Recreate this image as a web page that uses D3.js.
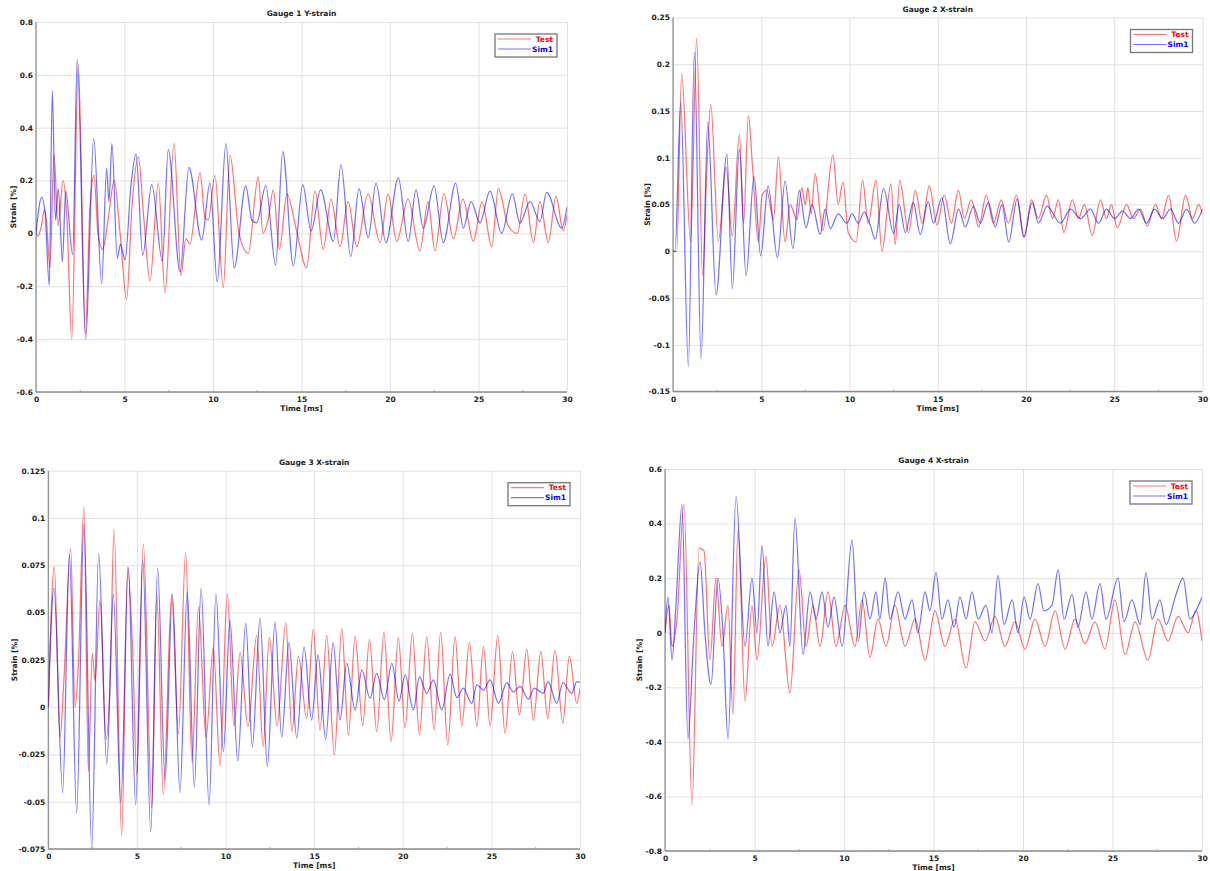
<!DOCTYPE html>
<html>
<head>
<meta charset="utf-8">
<script src="https://cdn.jsdelivr.net/npm/d3@7"></script>
<style>
  body { margin: 0; background: #fff; }
  svg { display: block; }
  text { font-family: "DejaVu Sans", sans-serif; font-weight: bold; }
</style>
</head>
<body>
<svg id="chart" width="1210" height="871"></svg>
<script>
// ---- data (time [ms], strain [%]) ----
var titles = ['Gauge 1 Y-strain', 'Gauge 2 X-strain', 'Gauge 3 X-strain', 'Gauge 4 X-strain'];
var seriesNames = ['Test', 'Sim1'];
var xTicks = [0, 5, 10, 15, 20, 25, 30];

var g1Ticks = [0.8, 0.6, 0.4, 0.2, 0, -0.2, -0.4, -0.6];
var g2Ticks = [0.25, 0.2, 0.15, 0.1, 0.05, 0, -0.05, -0.1, -0.15];
var g3Ticks = [0.125, 0.1, 0.075, 0.05, 0.025, 0, -0.025, -0.05, -0.075];
var g4Ticks = [0.6, 0.4, 0.2, 0, -0.2, -0.4, -0.6, -0.8];

var g1Test = [[0,0],[0.10,-0.01],[0.28,0.02],[0.48,0.09],[0.59,0.05],[0.79,-0.13],[1.02,0.30],[1.24,0.03],[1.54,0.20],[1.75,0.05],[2.02,-0.40],[2.39,0.64],[2.79,-0.38],[3.05,0.10],[3.28,0.22],[3.50,0.0],[3.77,-0.06],[4.07,0.05],[4.42,0.20],[4.75,0.0],[5.12,-0.25],[5.42,0.10],[5.78,0.29],[6.10,0.05],[6.44,-0.18],[6.91,0.19],[7.29,-0.225],[7.80,0.34],[8.19,-0.16],[8.47,-0.02],[8.70,-0.04],[9.27,0.23],[9.55,0.06],[9.73,0.05],[10.11,0.22],[10.58,-0.205],[10.96,0.295],[11.47,0.0],[11.99,-0.075],[12.56,0.215],[12.82,0.0],[13.11,0.05],[13.41,0.165],[13.75,-0.06],[14.18,0.15],[14.69,0.02],[15.29,-0.13],[15.76,0.16],[16.23,-0.06],[16.67,0.13],[17.18,-0.05],[17.63,0.12],[18.12,-0.05],[18.76,0.15],[19.44,-0.035],[19.89,0.15],[20.38,-0.03],[21.02,0.13],[21.69,-0.066],[22.15,0.12],[22.54,-0.066],[23.05,0.15],[23.58,-0.02],[24.12,0.13],[24.71,-0.03],[25.20,0.12],[25.75,-0.05],[26.12,0.17],[26.67,0.03],[27.19,0.0],[27.63,0.15],[28.10,-0.035],[28.47,0.12],[28.94,-0.035],[29.38,0.14],[29.79,0.01],[30,0.07]];
var g1Sim = [[0,0],[0.32,0.136],[0.51,0.08],[0.75,-0.196],[0.92,0.54],[1.10,0.05],[1.26,0.17],[1.49,-0.108],[1.68,0.16],[2.07,-0.08],[2.33,0.66],[2.81,-0.40],[3.26,0.36],[3.71,-0.19],[3.99,0.245],[4.12,0.12],[4.29,0.34],[4.59,-0.095],[4.77,-0.04],[5.03,-0.10],[5.37,0.185],[5.65,0.30],[6.03,-0.083],[6.54,0.185],[7.14,-0.105],[7.47,0.317],[8.14,-0.146],[8.64,0.25],[9.36,-0.025],[9.83,0.19],[10.24,-0.184],[10.73,0.34],[11.20,-0.13],[11.85,0.18],[12.2,0.05],[12.47,0.04],[12.98,0.18],[13.54,-0.12],[13.94,0.31],[14.54,-0.123],[15.07,0.185],[15.54,0.009],[16.08,0.165],[16.80,-0.03],[17.23,0.26],[17.78,-0.088],[18.25,0.17],[18.77,-0.016],[19.21,0.19],[19.77,-0.035],[20.47,0.21],[21.03,-0.03],[21.47,0.165],[21.88,0.02],[22.49,0.18],[23.01,-0.035],[23.71,0.19],[24.14,0.02],[24.58,0.12],[25.08,0.04],[25.65,0.16],[26.31,0.0],[26.91,0.15],[27.34,0.04],[27.91,0.12],[28.47,0.045],[28.85,0.155],[29.70,0.02],[30,0.1]];

var g2Test = [[0,0],[0.21,0.0],[0.49,0.19],[1.00,0.01],[1.34,0.228],[1.68,-0.027],[1.91,0.085],[2.14,0.157],[2.57,0.011],[3.01,0.09],[3.36,0.016],[3.76,0.125],[4.00,0.03],[4.27,0.145],[4.50,0.092],[4.84,0.01],[5.05,0.06],[5.31,0.065],[5.69,0.034],[5.97,0.101],[6.35,0.01],[6.64,0.05],[7.02,0.034],[7.30,0.068],[7.49,0.05],[7.64,0.068],[7.83,0.04],[8.05,0.083],[8.49,0.022],[9.06,0.103],[9.36,0.05],[9.63,0.074],[9.93,0.02],[10.38,0.01],[10.74,0.076],[11.06,0.03],[11.50,0.076],[11.84,0.0],[12.35,0.072],[12.59,0.007],[12.84,0.076],[13.35,0.02],[13.73,0.065],[14.12,0.03],[14.52,0.07],[14.96,0.028],[15.37,0.06],[15.77,0.03],[16.17,0.065],[16.51,0.035],[16.90,0.055],[17.32,0.026],[17.75,0.06],[18.15,0.03],[18.60,0.055],[19.00,0.03],[19.46,0.06],[19.91,0.015],[20.31,0.055],[20.70,0.035],[21.16,0.06],[21.50,0.035],[21.84,0.055],[22.14,0.02],[22.63,0.055],[22.97,0.035],[23.31,0.05],[23.75,0.017],[24.22,0.055],[24.56,0.035],[24.84,0.05],[25.17,0.025],[25.70,0.05],[26.09,0.035],[26.49,0.045],[26.87,0.027],[27.34,0.05],[27.68,0.035],[28.08,0.06],[28.53,0.011],[29.04,0.06],[29.44,0.035],[29.78,0.05],[30,0.04]];
var g2Sim = [[0,0],[0.11,0.0],[0.44,0.159],[0.87,-0.123],[1.21,0.213],[1.59,-0.115],[1.97,0.138],[2.44,-0.047],[3.05,0.104],[3.36,-0.04],[3.76,0.109],[4.14,-0.026],[4.59,0.08],[4.97,-0.005],[5.39,0.07],[5.92,-0.007],[6.35,0.075],[6.79,0.003],[7.15,0.065],[7.54,0.025],[7.88,0.05],[8.34,0.018],[8.62,0.045],[8.91,0.024],[9.36,0.04],[9.85,0.03],[10.15,0.04],[10.49,0.03],[10.83,0.042],[11.17,0.028],[11.46,0.013],[11.93,0.067],[12.50,0.019],[12.82,0.05],[13.16,0.02],[13.61,0.052],[14.01,0.018],[14.46,0.053],[14.75,0.03],[15.24,0.057],[15.71,0.008],[16.18,0.045],[16.56,0.026],[17.02,0.048],[17.41,0.03],[17.87,0.052],[18.26,0.026],[18.64,0.05],[19.02,0.01],[19.50,0.056],[19.87,0.015],[20.35,0.052],[20.70,0.03],[21.20,0.048],[21.95,0.03],[22.52,0.045],[23.09,0.035],[23.65,0.045],[24.11,0.03],[24.56,0.045],[25.01,0.035],[25.47,0.043],[25.92,0.035],[26.38,0.045],[26.83,0.03],[27.28,0.045],[27.74,0.035],[28.19,0.045],[28.64,0.03],[29.10,0.045],[29.55,0.03],[30,0.045]];

var g3Test = [[0,0],[0.34,0.0743],[0.66,-0.016],[0.89,0.016],[1.26,0.084],[1.51,0.0],[1.69,0.021],[2.01,0.1057],[2.26,-0.034],[2.48,0.0285],[2.64,0.014],[2.92,0.0567],[3.26,-0.017],[3.48,0.011],[3.71,0.094],[4.14,-0.068],[4.48,0.074],[4.76,0.03],[4.99,-0.036],[5.36,0.0863],[5.84,-0.053],[6.12,0.06],[6.49,-0.046],[6.96,0.0593],[7.34,-0.014],[7.75,0.0817],[8.11,-0.029],[8.47,0.053],[8.90,-0.016],[9.31,0.0315],[9.69,-0.031],[10.10,0.06],[10.48,-0.01],[10.82,0.029],[11.27,-0.0103],[11.76,0.038],[12.12,-0.021],[12.47,0.037],[12.91,-0.01],[13.40,0.0446],[13.75,-0.013],[14.11,0.027],[14.58,-0.006],[14.95,0.0412],[15.33,-0.012],[15.71,0.038],[16.14,-0.0253],[16.56,0.0417],[16.93,-0.0147],[17.31,0.0375],[17.74,-0.01],[18.12,0.0358],[18.53,-0.013],[18.94,0.0396],[19.34,-0.0182],[19.75,0.0367],[20.13,-0.011],[20.54,0.039],[20.94,-0.0147],[21.35,0.0373],[21.77,-0.012],[22.14,0.0396],[22.54,-0.02],[22.95,0.0373],[23.33,-0.01],[23.76,0.0343],[24.18,-0.0103],[24.55,0.032],[24.93,-0.01],[25.36,0.0378],[25.77,-0.0138],[26.19,0.0293],[26.58,-0.0041],[27.00,0.0306],[27.37,-0.007],[27.79,0.0293],[28.18,-0.006],[28.59,0.03],[29.03,-0.0085],[29.40,0.027],[29.82,0.002],[30,0.01]];
var g3Sim = [[0,0],[0.32,0.0628],[0.81,-0.0452],[1.19,0.0805],[1.60,-0.0561],[2.01,0.0968],[2.45,-0.0746],[2.84,0.0813],[3.30,-0.0302],[3.67,0.0598],[4.09,-0.0508],[4.51,0.0737],[4.93,-0.0517],[5.33,0.0778],[5.78,-0.0658],[6.17,0.0734],[6.59,-0.0385],[7.00,0.0598],[7.43,-0.0452],[7.84,0.061],[8.24,-0.0424],[8.62,0.0628],[9.07,-0.0517],[9.46,0.0597],[9.88,-0.0235],[10.25,0.046],[10.69,-0.0284],[11.14,0.0443],[11.51,-0.021],[11.95,0.047],[12.36,-0.0314],[12.79,0.0449],[13.17,-0.0159],[13.58,0.0343],[14.02,-0.0164],[14.43,0.0317],[14.86,-0.0068],[15.22,0.0276],[15.65,-0.017],[16.07,0.0338],[16.46,-0.0068],[16.84,0.0232],[17.31,-0.0015],[17.69,0.0197],[18.15,0.0047],[18.53,0.0179],[18.96,0.004],[19.38,0.0232],[19.79,0.0032],[20.13,0.017],[20.60,-0.0015],[20.94,0.016],[21.35,0.0073],[21.73,0.0144],[22.20,-0.0015],[22.67,0.0175],[23.05,0.005],[23.42,0.01],[23.89,0.002],[24.18,0.0118],[24.55,0.009],[24.93,0.0144],[25.40,0.002],[25.87,0.013],[26.24,0.008],[26.62,0.011],[27.09,0.0042],[27.41,0.010],[27.93,0.0073],[28.20,0.0135],[28.69,0.002],[29.04,0.013],[29.53,0.0073],[29.82,0.0135],[30,0.013]];

var g4Test = [[0,0],[0.22,0.1],[0.39,-0.05],[0.67,0.05],[1.06,0.47],[1.51,-0.63],[1.90,0.31],[2.18,0.30],[2.51,-0.1],[2.85,0.2],[3.18,-0.05],[3.52,0.1],[3.80,-0.3],[4.08,0.38],[4.47,-0.25],[4.86,0.1],[5.14,-0.1],[5.64,0.28],[5.98,-0.05],[6.42,0.1],[6.98,-0.22],[7.49,0.23],[7.88,-0.05],[8.27,0.1],[8.66,-0.05],[9.11,0.15],[9.55,-0.05],[10.06,0.1],[10.61,-0.05],[11.01,0.12],[11.45,-0.09],[11.90,0.05],[12.35,-0.05],[12.85,0.1],[13.41,-0.05],[13.97,0.05],[14.53,-0.1],[15.08,0.08],[15.64,-0.05],[16.20,0.05],[16.82,-0.13],[17.32,0.04],[17.88,-0.03],[18.44,0.06],[18.99,-0.05],[19.55,0.04],[20.11,-0.06],[20.67,0.05],[21.23,-0.05],[21.79,0.08],[22.35,-0.06],[22.91,0.05],[23.46,-0.04],[24.02,0.04],[24.58,-0.06],[25.14,0.12],[25.70,-0.08],[26.26,0.04],[26.98,-0.1],[27.54,0.05],[28.10,-0.03],[28.66,0.06],[29.22,0.0],[29.66,0.08],[30,-0.03]];
var g4Sim = [[0,0],[0.17,0.13],[0.39,-0.1],[0.61,0.1],[0.95,0.47],[1.28,-0.39],[1.62,0.0],[1.96,0.26],[2.23,0.0],[2.57,-0.19],[2.96,0.2],[3.24,0.0],[3.52,-0.39],[3.97,0.50],[4.47,-0.05],[4.86,0.2],[5.14,0.0],[5.42,0.32],[5.75,-0.05],[6.09,0.15],[6.42,0.0],[6.76,0.1],[6.98,-0.05],[7.26,0.42],[7.71,-0.08],[8.10,0.15],[8.44,0.05],[8.77,0.15],[9.11,0.02],[9.44,0.13],[9.90,-0.05],[10.45,0.34],[10.80,-0.03],[11.12,0.15],[11.45,0.05],[11.79,0.15],[12.00,0.05],[12.30,0.2],[12.57,0.05],[13.02,0.15],[13.41,0.05],[13.80,0.12],[14.13,0.0],[14.53,0.15],[14.80,0.08],[15.14,0.22],[15.47,0.05],[15.81,0.12],[16.15,0.02],[16.48,0.13],[16.82,0.05],[17.15,0.15],[17.49,0.05],[17.93,0.1],[18.27,0.0],[18.60,0.21],[18.94,0.03],[19.39,0.12],[19.72,0.0],[20.06,0.13],[20.39,0.05],[20.84,0.18],[21.17,0.08],[21.62,0.1],[21.96,0.23],[22.29,0.05],[22.74,0.14],[23.07,0.02],[23.52,0.15],[23.85,0.05],[24.30,0.18],[24.64,0.05],[25.31,0.2],[25.64,0.04],[26.09,0.12],[26.54,0.03],[26.87,0.22],[27.21,0.05],[27.65,0.12],[27.99,0.03],[28.55,0.14],[28.94,0.2],[29.33,0.05],[29.66,0.08],[30,0.13]];

// ---- layout ----
var svg = d3.select('#chart');
var colors = { Test: '#ff0000', Sim1: '#0000ff' };

var panels = [
  { title: titles[0], test: g1Test, sim: g1Sim, yTicks: g1Ticks, labelGap: 20, box: { l: 36, t: 22, r: 567, b: 392 } },
  { title: titles[1], test: g2Test, sim: g2Sim, yTicks: g2Ticks, labelGap: 23, box: { l: 673, t: 17.5, r: 1202.5, b: 391.5 } },
  { title: titles[2], test: g3Test, sim: g3Sim, yTicks: g3Ticks, labelGap: 31, box: { l: 48.3, t: 470.7, r: 580, b: 849 } },
  { title: titles[3], test: g4Test, sim: g4Sim, yTicks: g4Ticks, labelGap: 23, box: { l: 665, t: 469, r: 1202, b: 851 } }
];

panels.forEach(function(p, i) {
  var b = p.box;
  var w = b.r - b.l;
  var h = b.b - b.t;
  var x = d3.scaleLinear().domain([0, 30]).range([b.l, b.r]);
  var y = d3.scaleLinear().domain(d3.extent(p.yTicks)).range([b.b, b.t]);
  var g = svg.append('g').attr('class', 'panel');

  // grid
  g.append('g')
    .attr('transform', `translate(0, ${b.b})`)
    .call(d3.axisBottom(x).tickValues(xTicks).tickSize(-h).tickFormat(''))
    .call(s => s.select('.domain').remove())
    .selectAll('line').attr('stroke', '#d9d9d9').attr('stroke-width', 0.8);
  g.append('g')
    .attr('transform', `translate(${b.l}, 0)`)
    .call(d3.axisLeft(y).tickValues(p.yTicks).tickSize(-w).tickFormat(''))
    .call(s => s.select('.domain').remove())
    .selectAll('line').attr('stroke', '#d9d9d9').attr('stroke-width', 0.8);

  // minor x ticks
  g.selectAll('line.minor')
    .data(d3.range(2.5, 30, 5))
    .enter()
    .append('line')
    .attr('x1', d => x(d)).attr('x2', d => x(d))
    .attr('y1', b.b).attr('y2', b.b - 2)
    .attr('stroke', '#999').attr('stroke-width', 0.8);

  // axis lines
  g.append('line')
    .attr('x1', b.l).attr('x2', b.l).attr('y1', b.t).attr('y2', b.b)
    .attr('stroke', '#8c8c8c').attr('stroke-width', 1.2);
  g.append('line')
    .attr('x1', b.l).attr('x2', b.r).attr('y1', b.b).attr('y2', b.b)
    .attr('stroke', '#8c8c8c').attr('stroke-width', 1.6);

  // tick labels
  g.append('g')
    .attr('transform', `translate(0, ${b.b})`)
    .call(d3.axisBottom(x).tickValues(xTicks).tickSize(0).tickPadding(5))
    .call(s => s.select('.domain').remove())
    .selectAll('text')
    .attr('font-size', 7.5)
    .attr('font-family', '"DejaVu Sans", sans-serif')
    .attr('font-weight', 'bold')
    .attr('fill', '#222');
  g.append('g')
    .attr('transform', `translate(${b.l}, 0)`)
    .call(d3.axisLeft(y).tickValues(p.yTicks).tickSize(0).tickPadding(3).tickFormat(d => String(d)))
    .call(s => s.select('.domain').remove())
    .selectAll('text')
    .attr('font-size', 7.5)
    .attr('font-family', '"DejaVu Sans", sans-serif')
    .attr('font-weight', 'bold')
    .attr('fill', '#222');

  // titles
  g.append('text')
    .attr('x', (b.l + b.r) / 2)
    .attr('y', b.t - 6)
    .attr('text-anchor', 'middle')
    .attr('font-size', 7.5)
    .attr('fill', '#222')
    .text(p.title);
  g.append('text')
    .attr('x', (b.l + b.r) / 2)
    .attr('y', b.b + 19)
    .attr('text-anchor', 'middle')
    .attr('font-size', 7.5)
    .attr('fill', '#222')
    .text('Time [ms]');
  g.append('text')
    .attr('transform', `translate(${b.l - p.labelGap}, ${(b.t + b.b) / 2}) rotate(-90)`)
    .attr('text-anchor', 'middle')
    .attr('font-size', 7.5)
    .attr('fill', '#222')
    .text('Strain [%]');

  // lines
  g.append('clipPath').attr('id', 'clip' + i)
    .append('rect').attr('x', b.l).attr('y', b.t - 1).attr('width', w).attr('height', h + 1);
  var line = d3.line()
    .x(d => x(d[0]))
    .y(d => y(d[1]))
    .curve(d3.curveMonotoneX);
  var plot = g.append('g').attr('clip-path', `url(#clip${i})`);
  [[p.test, colors.Test], [p.sim, colors.Sim1]].forEach(function(s) {
    plot.append('path')
      .datum(s[0])
      .attr('d', line)
      .attr('fill', 'none')
      .attr('stroke', s[1])
      .attr('stroke-opacity', 0.55)
      .attr('stroke-width', 1.25);
  });

  // legend
  var lx = b.r - 72, ly = b.t + 12;
  var leg = g.append('g').attr('transform', `translate(${lx}, ${ly})`);
  leg.append('rect')
    .attr('width', 62).attr('height', 23)
    .attr('fill', '#fff')
    .attr('stroke', '#777').attr('stroke-width', 1.3);
  seriesNames.forEach(function(name, k) {
    var yy = 5 + k * 10;
    leg.append('line')
      .attr('x1', 3).attr('x2', 36).attr('y1', yy).attr('y2', yy)
      .attr('stroke', colors[name]).attr('stroke-opacity', 0.55).attr('stroke-width', 1.2);
    leg.append('text')
      .attr('x', 58).attr('y', yy + 2.5)
      .attr('text-anchor', 'end')
      .attr('font-size', 7.5)
      .attr('fill', colors[name])
      .text(name);
  });
});
</script>
</body>
</html>
